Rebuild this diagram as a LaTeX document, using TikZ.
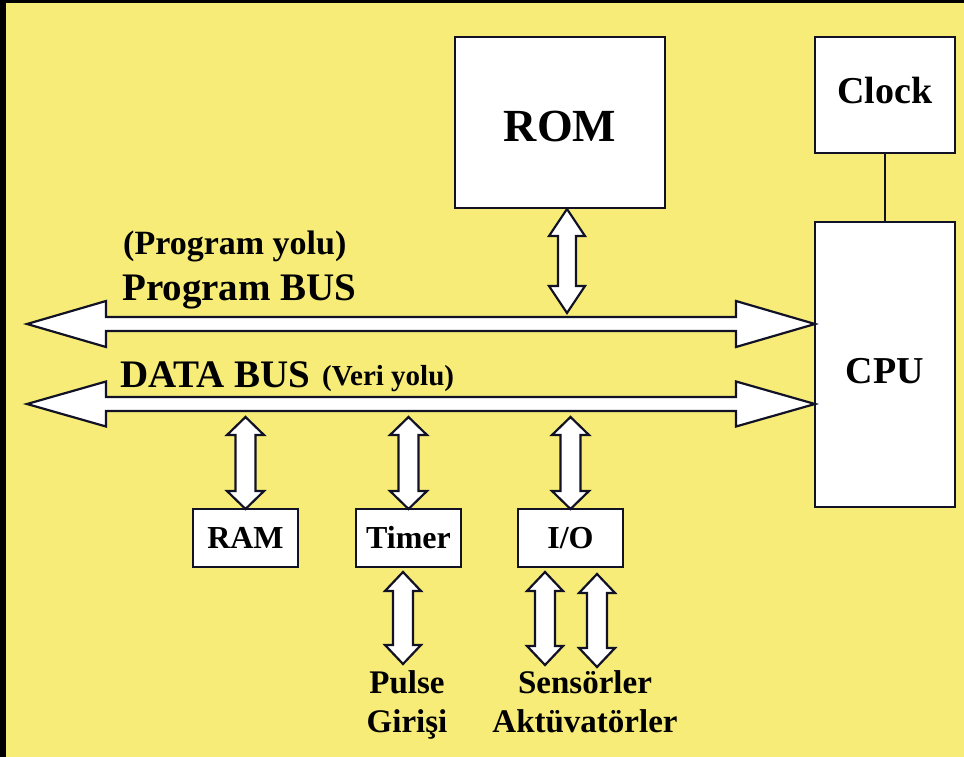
\documentclass[tikz,border=0pt]{standalone}
\usepackage{fontspec}
\setmainfont{Liberation Serif}
\usetikzlibrary{calc}
\definecolor{bg}{RGB}{247,236,120}
\definecolor{ink}{RGB}{18,18,38}

% hollow double-headed arrow, vertical: #1 top tip, #2 bottom tip,
% #3 head length, #4 head half width, #5 shaft half width (all in pt)
\newcommand\vdouble[5]{%
  \draw[busarrow] let \p1=(#1), \p2=(#2) in
    (\x1,\y1) -- (\x1+#4pt,\y1-#3pt) -- (\x1+#5pt,\y1-#3pt) -- (\x1+#5pt,\y2+#3pt)
    -- (\x1+#4pt,\y2+#3pt) -- (\x1,\y2) -- (\x1-#4pt,\y2+#3pt) -- (\x1-#5pt,\y2+#3pt)
    -- (\x1-#5pt,\y1-#3pt) -- (\x1-#4pt,\y1-#3pt) -- cycle;}
% hollow double-headed arrow, horizontal: #1 left tip, #2 right tip
\newcommand\hdouble[5]{%
  \draw[busarrow] let \p1=(#1), \p2=(#2) in
    (\x1,\y1) -- (\x1+#3pt,\y1+#4pt) -- (\x1+#3pt,\y1+#5pt) -- (\x2-#3pt,\y1+#5pt)
    -- (\x2-#3pt,\y1+#4pt) -- (\x2,\y1) -- (\x2-#3pt,\y1-#4pt) -- (\x2-#3pt,\y1-#5pt)
    -- (\x1+#3pt,\y1-#5pt) -- (\x1+#3pt,\y1-#4pt) -- cycle;}
% text whose baseline sits #1 below the centre of its box
\newcommand\lowered[2]{\raisebox{-#1}[0pt][0pt]{#2}}

\begin{document}
\begin{tikzpicture}[x=1pt,y=-1pt,
  box/.style={draw=ink, line width=2pt, fill=white, inner sep=0pt, outer sep=0pt,
    font=\bfseries\fontsize{32}{32}\selectfont},
  busarrow/.style={draw=ink, line width=2.2pt, fill=white, line join=miter},
  lbl/.style={inner sep=0pt, font=\bfseries\fontsize{33}{39}\selectfont},
  buslbl/.style={inner sep=0pt, anchor=base west, font=\bfseries\fontsize{39}{39}\selectfont},
  sublbl/.style={inner sep=0pt, anchor=base west, font=\bfseries\fontsize{34}{34}\selectfont}]

% background with the dark frame on the left and top
\fill[black] (0,0) rectangle (964,757);
\fill[bg] (6,3) rectangle (964,757);
\useasboundingbox (0,0) rectangle (964,757);

% blocks
\node[box, minimum width=210pt, minimum height=171pt, font=\bfseries\fontsize{46}{46}\selectfont]
  (rom) at (560,122.5) {\lowered{19.5pt}{ROM}};
\node[box, minimum width=140pt, minimum height=116pt, font=\bfseries\fontsize{38}{38}\selectfont]
  (clock) at (885,95) {\lowered{9pt}{Clock}};
\node[box, minimum width=140pt, minimum height=285pt, font=\bfseries\fontsize{38}{38}\selectfont]
  (cpu) at (885,364.5) {\lowered{18.5pt}{CPU}};
\node[box, minimum width=105pt, minimum height=58pt] (ram) at (245.5,538) {RAM};
\node[box, minimum width=105pt, minimum height=58pt] (timer) at (408.5,538) {Timer};
\node[box, minimum width=105pt, minimum height=58pt] (io) at (570.5,538) {I/O};

% clock line
\draw[ink, line width=2pt] (clock.south) -- (cpu.north);

% buses
\coordinate (pbL) at (27,324);
\coordinate (pbR) at (cpu.west |- pbL);
\coordinate (dbL) at (27,404);
\coordinate (dbR) at (cpu.west |- dbL);
\hdouble{pbL}{pbR}{79}{23}{7}
\hdouble{dbL}{dbR}{79}{22.5}{7}

% ROM to program bus
\coordinate (romT) at (567,209);
\coordinate (romB) at (567,313);
\vdouble{romT}{romB}{27}{18}{9}

% data bus to peripherals
\coordinate (ramT) at (ram.north |- 0,417);
\vdouble{ramT}{ram.north}{18}{18.5}{10}
\coordinate (timT) at (timer.north |- 0,417);
\vdouble{timT}{timer.north}{18}{18.5}{10}
\coordinate (ioT) at (io.north |- 0,417);
\vdouble{ioT}{io.north}{18}{18.5}{10}

% outside connections
\coordinate (puT) at (403,572);
\coordinate (puB) at (403,664);
\vdouble{puT}{puB}{19}{18}{10}
\coordinate (seT) at (545,572);
\coordinate (seB) at (545,665);
\vdouble{seT}{seB}{19}{18}{10}
\coordinate (akT) at (597,574);
\coordinate (akB) at (597,667);
\vdouble{akT}{akB}{19}{18}{10}

% bus labels
\node[sublbl] (pyolu) at (123,254) {(Program yolu)};
\node[buslbl] (pbus) at (122,300) {Program BUS};
\node[buslbl] (dbus) at (120,387) {DATA BUS};
\node[sublbl, font=\bfseries\fontsize{29}{29}\selectfont] (vyolu) at (322,385) {(Veri yolu)};

% outside labels
\node[lbl, anchor=base] (pulse) at (407,693) {Pulse};
\node[lbl, anchor=base] (giris) at (407,732) {Girişi};
\node[lbl, anchor=base] (sens) at (585,693) {Sensörler};
\node[lbl, anchor=base] (akt) at (585,732) {Aktüvatörler};
\end{tikzpicture}
\end{document}
